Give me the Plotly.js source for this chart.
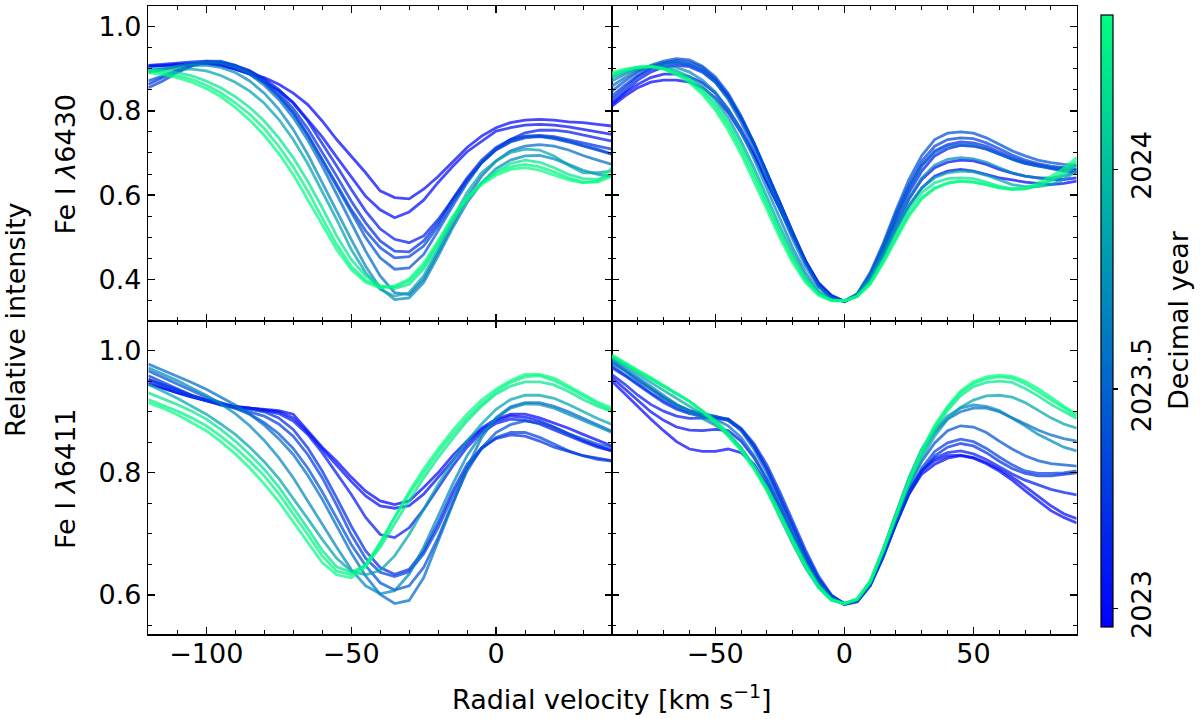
<!DOCTYPE html>
<html>
<head>
<meta charset="utf-8">
<script src="https://cdn.plot.ly/plotly-3.0.1.min.js"></script>
<style>
  html, body { margin: 0; padding: 0; background: #fff; }
  #chart { width: 1200px; height: 719px; }
</style>
</head>
<body>
<div id="chart"></div>
<script>
// velocity grids of the two columns [km/s]
var velLeft = [-120,-115,-110,-105,-100,-95,-90,-85,-80,-75,-70,-65,-60,-55,-50,-45,-40,-35,-30,-25,-20,-15,-10,-5,0,5,10,15,20,25,30,35,40];
var velRight = [-90,-85,-80,-75,-70,-65,-60,-55,-50,-45,-40,-35,-30,-25,-20,-15,-10,-5,0,5,10,15,20,25,30,35,40,45,50,55,60,65,70,75,80,85,90];

// observation epochs (decimal year), one per profile row below
var obsDate = [2022.98, 2023.02, 2023.10, 2023.20, 2023.30, 2023.40, 2023.55, 2023.70, 2023.86, 2024.22, 2024.29, 2024.35];

// colour bar limits and ticks
var cbMin = 2022.958, cbMax = 2024.352;
var cbTicks = [2023, 2023.5, 2024];
var cbTickText = ['2023', '2023.5', '2024'];

// Fe I 6430, left window
var fe6430Left = [
  [0.907,0.908,0.911,0.912,0.913,0.908,0.899,0.888,0.879,0.863,0.842,0.815,0.776,0.732,0.693,0.653,0.610,0.594,0.591,0.614,0.644,0.679,0.713,0.740,0.760,0.772,0.778,0.780,0.778,0.774,0.772,0.768,0.764],
  [0.905,0.907,0.909,0.911,0.912,0.908,0.899,0.887,0.868,0.848,0.820,0.780,0.738,0.690,0.643,0.597,0.565,0.546,0.560,0.588,0.630,0.668,0.703,0.728,0.752,0.760,0.766,0.768,0.766,0.762,0.756,0.750,0.744],
  [0.908,0.910,0.913,0.916,0.918,0.914,0.906,0.895,0.876,0.851,0.818,0.776,0.724,0.669,0.614,0.562,0.520,0.495,0.487,0.503,0.542,0.590,0.637,0.677,0.709,0.732,0.748,0.754,0.754,0.750,0.743,0.736,0.728],
  [0.863,0.879,0.895,0.908,0.916,0.916,0.908,0.895,0.873,0.843,0.805,0.758,0.702,0.645,0.586,0.534,0.491,0.467,0.465,0.491,0.534,0.590,0.641,0.683,0.713,0.732,0.740,0.742,0.739,0.732,0.724,0.716,0.709],
  [0.855,0.871,0.891,0.906,0.916,0.914,0.905,0.891,0.867,0.835,0.796,0.744,0.685,0.625,0.566,0.515,0.475,0.451,0.454,0.479,0.526,0.582,0.633,0.677,0.707,0.726,0.736,0.739,0.734,0.726,0.716,0.707,0.697],
  [0.871,0.883,0.897,0.908,0.918,0.918,0.908,0.892,0.868,0.835,0.794,0.742,0.681,0.618,0.558,0.499,0.451,0.424,0.427,0.459,0.515,0.574,0.629,0.677,0.709,0.728,0.739,0.740,0.736,0.728,0.718,0.709,0.697],
  [0.891,0.899,0.906,0.913,0.916,0.913,0.903,0.887,0.861,0.827,0.784,0.731,0.669,0.602,0.534,0.467,0.408,0.368,0.364,0.400,0.463,0.530,0.594,0.645,0.681,0.705,0.716,0.720,0.716,0.707,0.694,0.683,0.673],
  [0.895,0.900,0.905,0.908,0.908,0.903,0.891,0.871,0.842,0.804,0.756,0.697,0.629,0.562,0.495,0.431,0.380,0.352,0.356,0.392,0.455,0.522,0.582,0.629,0.663,0.683,0.693,0.694,0.686,0.673,0.659,0.649,0.645],
  [0.899,0.900,0.900,0.899,0.895,0.884,0.868,0.847,0.818,0.780,0.732,0.675,0.610,0.542,0.471,0.416,0.376,0.360,0.368,0.408,0.471,0.542,0.606,0.653,0.681,0.701,0.709,0.707,0.693,0.671,0.653,0.653,0.657],
  [0.899,0.895,0.891,0.883,0.871,0.855,0.834,0.808,0.776,0.736,0.689,0.633,0.570,0.503,0.447,0.408,0.385,0.378,0.388,0.424,0.479,0.538,0.590,0.629,0.657,0.675,0.683,0.678,0.665,0.649,0.639,0.637,0.649],
  [0.895,0.891,0.884,0.875,0.861,0.843,0.819,0.792,0.758,0.716,0.667,0.610,0.546,0.483,0.431,0.398,0.382,0.382,0.396,0.431,0.487,0.546,0.594,0.629,0.653,0.667,0.673,0.667,0.655,0.641,0.631,0.631,0.645],
  [0.891,0.886,0.879,0.868,0.853,0.834,0.808,0.778,0.742,0.699,0.649,0.591,0.530,0.471,0.423,0.393,0.380,0.384,0.401,0.438,0.491,0.549,0.594,0.625,0.647,0.661,0.665,0.659,0.647,0.636,0.629,0.633,0.665]
];

// Fe I 6430, right window
var fe6430Right = [
  [0.811,0.835,0.855,0.868,0.873,0.873,0.868,0.855,0.831,0.796,0.748,0.693,0.629,0.566,0.503,0.443,0.392,0.362,0.348,0.360,0.400,0.455,0.518,0.574,0.617,0.645,0.657,0.661,0.657,0.649,0.641,0.636,0.631,0.628,0.625,0.628,0.633],
  [0.815,0.842,0.863,0.879,0.887,0.887,0.881,0.867,0.842,0.804,0.756,0.699,0.633,0.568,0.503,0.443,0.390,0.360,0.348,0.362,0.404,0.463,0.530,0.590,0.637,0.665,0.678,0.683,0.681,0.673,0.661,0.652,0.645,0.641,0.637,0.637,0.641],
  [0.819,0.847,0.873,0.892,0.904,0.908,0.905,0.892,0.868,0.831,0.780,0.720,0.653,0.582,0.511,0.443,0.388,0.359,0.348,0.364,0.408,0.471,0.542,0.606,0.657,0.693,0.710,0.718,0.716,0.709,0.697,0.685,0.675,0.669,0.663,0.657,0.653],
  [0.827,0.855,0.881,0.899,0.910,0.914,0.910,0.897,0.873,0.835,0.784,0.723,0.655,0.583,0.511,0.443,0.388,0.359,0.347,0.363,0.409,0.475,0.550,0.617,0.671,0.705,0.720,0.726,0.724,0.716,0.702,0.689,0.678,0.671,0.665,0.661,0.659],
  [0.835,0.861,0.884,0.903,0.914,0.920,0.916,0.903,0.876,0.837,0.784,0.723,0.653,0.582,0.509,0.441,0.385,0.357,0.347,0.364,0.412,0.479,0.557,0.625,0.681,0.716,0.732,0.736,0.734,0.724,0.710,0.695,0.683,0.675,0.669,0.665,0.661],
  [0.847,0.871,0.892,0.908,0.918,0.924,0.921,0.906,0.881,0.842,0.788,0.724,0.653,0.580,0.507,0.439,0.385,0.357,0.348,0.366,0.416,0.485,0.564,0.637,0.694,0.732,0.747,0.750,0.747,0.736,0.720,0.705,0.693,0.683,0.677,0.673,0.671],
  [0.859,0.879,0.895,0.906,0.914,0.916,0.910,0.895,0.868,0.827,0.773,0.710,0.639,0.566,0.495,0.431,0.382,0.355,0.348,0.364,0.409,0.475,0.550,0.617,0.669,0.701,0.716,0.720,0.718,0.710,0.697,0.685,0.675,0.669,0.665,0.665,0.669],
  [0.871,0.887,0.899,0.905,0.906,0.903,0.892,0.873,0.845,0.804,0.750,0.686,0.615,0.544,0.475,0.416,0.372,0.352,0.349,0.364,0.404,0.463,0.530,0.594,0.641,0.671,0.685,0.689,0.686,0.678,0.665,0.653,0.645,0.641,0.641,0.645,0.657],
  [0.879,0.892,0.900,0.905,0.903,0.895,0.881,0.859,0.827,0.784,0.728,0.665,0.596,0.526,0.462,0.406,0.368,0.351,0.349,0.362,0.398,0.455,0.518,0.576,0.617,0.641,0.653,0.657,0.655,0.647,0.636,0.625,0.620,0.620,0.625,0.637,0.657],
  [0.883,0.895,0.903,0.905,0.900,0.891,0.875,0.851,0.818,0.773,0.718,0.655,0.586,0.517,0.454,0.401,0.367,0.351,0.349,0.360,0.393,0.447,0.507,0.564,0.606,0.629,0.639,0.641,0.639,0.631,0.621,0.615,0.615,0.621,0.633,0.649,0.673],
  [0.887,0.897,0.904,0.906,0.900,0.889,0.871,0.845,0.810,0.764,0.707,0.644,0.576,0.507,0.446,0.396,0.364,0.350,0.349,0.359,0.390,0.441,0.499,0.554,0.594,0.617,0.629,0.633,0.631,0.625,0.617,0.613,0.615,0.623,0.637,0.655,0.681],
  [0.891,0.899,0.904,0.905,0.899,0.886,0.867,0.839,0.802,0.754,0.697,0.633,0.566,0.499,0.439,0.392,0.362,0.349,0.349,0.359,0.388,0.438,0.495,0.550,0.591,0.615,0.628,0.633,0.631,0.625,0.617,0.615,0.617,0.628,0.644,0.663,0.689]
];

// Fe I 6411, left window
var fe6411Left = [
  [0.948,0.939,0.931,0.924,0.918,0.912,0.908,0.906,0.904,0.902,0.896,0.869,0.842,0.819,0.793,0.770,0.754,0.748,0.754,0.776,0.800,0.828,0.852,0.873,0.888,0.896,0.896,0.890,0.882,0.873,0.863,0.853,0.844],
  [0.945,0.938,0.931,0.924,0.918,0.912,0.908,0.906,0.903,0.900,0.890,0.866,0.839,0.813,0.786,0.762,0.746,0.742,0.746,0.765,0.792,0.820,0.848,0.870,0.885,0.893,0.891,0.885,0.875,0.864,0.853,0.844,0.836],
  [0.953,0.944,0.935,0.927,0.920,0.914,0.909,0.906,0.902,0.897,0.885,0.863,0.833,0.800,0.765,0.727,0.699,0.694,0.710,0.740,0.776,0.811,0.842,0.866,0.881,0.888,0.886,0.880,0.870,0.860,0.851,0.842,0.836],
  [0.959,0.948,0.937,0.927,0.919,0.912,0.908,0.904,0.900,0.890,0.871,0.841,0.803,0.759,0.713,0.672,0.645,0.634,0.642,0.672,0.718,0.770,0.814,0.841,0.856,0.862,0.860,0.852,0.842,0.835,0.828,0.824,0.820],
  [0.953,0.944,0.934,0.925,0.918,0.911,0.906,0.900,0.893,0.880,0.860,0.830,0.792,0.747,0.699,0.660,0.637,0.630,0.638,0.667,0.710,0.762,0.808,0.839,0.858,0.866,0.866,0.858,0.847,0.836,0.828,0.822,0.819],
  [0.967,0.956,0.945,0.934,0.924,0.915,0.906,0.896,0.882,0.864,0.840,0.808,0.769,0.725,0.683,0.648,0.620,0.608,0.615,0.645,0.694,0.751,0.803,0.841,0.866,0.879,0.885,0.882,0.874,0.864,0.855,0.847,0.841],
  [0.978,0.968,0.959,0.948,0.937,0.924,0.911,0.896,0.878,0.856,0.830,0.796,0.757,0.713,0.669,0.631,0.601,0.586,0.591,0.628,0.688,0.751,0.808,0.858,0.890,0.908,0.915,0.915,0.909,0.900,0.889,0.878,0.868],
  [0.972,0.962,0.951,0.939,0.927,0.913,0.897,0.877,0.853,0.825,0.792,0.754,0.715,0.678,0.642,0.615,0.602,0.607,0.634,0.678,0.729,0.781,0.828,0.863,0.889,0.906,0.913,0.912,0.906,0.896,0.885,0.875,0.866],
  [0.945,0.934,0.922,0.909,0.896,0.880,0.863,0.842,0.818,0.791,0.759,0.725,0.691,0.660,0.639,0.633,0.640,0.664,0.699,0.740,0.781,0.819,0.852,0.880,0.904,0.920,0.927,0.927,0.922,0.912,0.900,0.889,0.879],
  [0.931,0.922,0.912,0.901,0.888,0.871,0.852,0.830,0.806,0.777,0.744,0.709,0.673,0.646,0.637,0.648,0.678,0.717,0.755,0.791,0.825,0.856,0.885,0.909,0.929,0.942,0.949,0.949,0.944,0.933,0.920,0.909,0.900],
  [0.920,0.911,0.901,0.890,0.877,0.860,0.841,0.819,0.795,0.766,0.733,0.699,0.664,0.639,0.633,0.650,0.686,0.727,0.765,0.800,0.833,0.863,0.890,0.913,0.933,0.948,0.957,0.959,0.951,0.939,0.926,0.913,0.902],
  [0.915,0.906,0.895,0.882,0.869,0.851,0.831,0.808,0.782,0.753,0.720,0.686,0.653,0.633,0.628,0.646,0.684,0.727,0.769,0.806,0.839,0.869,0.896,0.919,0.937,0.951,0.961,0.961,0.955,0.942,0.929,0.916,0.906]
];

// Fe I 6411, right window
var fe6411Right = [
  [0.950,0.929,0.908,0.888,0.869,0.851,0.839,0.835,0.835,0.839,0.833,0.814,0.781,0.738,0.694,0.653,0.620,0.597,0.586,0.591,0.618,0.664,0.716,0.765,0.798,0.814,0.824,0.828,0.824,0.815,0.803,0.788,0.771,0.754,0.738,0.727,0.718],
  [0.956,0.937,0.918,0.900,0.886,0.875,0.870,0.869,0.871,0.869,0.852,0.825,0.789,0.746,0.699,0.656,0.622,0.598,0.586,0.591,0.619,0.667,0.721,0.770,0.804,0.820,0.828,0.829,0.825,0.817,0.806,0.793,0.778,0.762,0.746,0.733,0.725],
  [0.961,0.945,0.927,0.912,0.901,0.893,0.889,0.889,0.890,0.886,0.871,0.844,0.806,0.759,0.710,0.664,0.626,0.599,0.586,0.590,0.616,0.664,0.718,0.768,0.803,0.824,0.833,0.836,0.831,0.822,0.810,0.798,0.788,0.780,0.773,0.768,0.764],
  [0.972,0.959,0.944,0.929,0.915,0.904,0.897,0.893,0.891,0.888,0.873,0.848,0.813,0.769,0.721,0.673,0.631,0.600,0.585,0.589,0.615,0.661,0.716,0.765,0.803,0.828,0.842,0.848,0.844,0.833,0.819,0.807,0.799,0.795,0.795,0.798,0.800],
  [0.975,0.961,0.946,0.931,0.918,0.907,0.899,0.894,0.892,0.888,0.871,0.844,0.807,0.762,0.715,0.668,0.627,0.598,0.584,0.589,0.615,0.662,0.718,0.769,0.808,0.835,0.849,0.855,0.851,0.840,0.826,0.813,0.803,0.799,0.799,0.800,0.803],
  [0.980,0.967,0.951,0.937,0.923,0.911,0.902,0.897,0.893,0.886,0.869,0.839,0.800,0.754,0.706,0.660,0.623,0.597,0.585,0.590,0.617,0.667,0.724,0.777,0.819,0.849,0.869,0.877,0.875,0.866,0.852,0.839,0.828,0.820,0.815,0.813,0.811],
  [0.983,0.968,0.953,0.938,0.924,0.912,0.902,0.895,0.888,0.877,0.858,0.828,0.789,0.743,0.697,0.653,0.618,0.595,0.585,0.591,0.620,0.672,0.732,0.788,0.833,0.866,0.888,0.900,0.906,0.906,0.900,0.890,0.879,0.870,0.862,0.856,0.852],
  [0.986,0.971,0.956,0.941,0.926,0.912,0.900,0.889,0.878,0.863,0.841,0.811,0.773,0.728,0.684,0.644,0.612,0.592,0.585,0.592,0.622,0.675,0.735,0.792,0.839,0.871,0.893,0.906,0.911,0.909,0.902,0.890,0.877,0.863,0.852,0.842,0.836],
  [0.989,0.975,0.961,0.948,0.935,0.922,0.909,0.896,0.881,0.862,0.839,0.810,0.776,0.736,0.694,0.653,0.616,0.593,0.586,0.593,0.620,0.671,0.727,0.780,0.825,0.860,0.888,0.907,0.919,0.926,0.927,0.924,0.915,0.902,0.890,0.880,0.873],
  [0.990,0.978,0.966,0.953,0.941,0.929,0.917,0.902,0.886,0.866,0.841,0.811,0.776,0.735,0.691,0.650,0.615,0.593,0.586,0.593,0.620,0.672,0.729,0.784,0.830,0.871,0.902,0.926,0.941,0.948,0.950,0.948,0.938,0.926,0.912,0.900,0.889],
  [0.991,0.979,0.967,0.955,0.942,0.930,0.917,0.901,0.884,0.863,0.839,0.808,0.773,0.732,0.688,0.647,0.613,0.592,0.586,0.593,0.622,0.673,0.731,0.787,0.835,0.875,0.907,0.931,0.946,0.954,0.957,0.955,0.946,0.933,0.919,0.906,0.893],
  [0.993,0.980,0.968,0.956,0.943,0.931,0.917,0.900,0.882,0.860,0.836,0.806,0.770,0.729,0.686,0.646,0.612,0.591,0.586,0.594,0.623,0.675,0.733,0.789,0.837,0.878,0.909,0.934,0.949,0.957,0.960,0.958,0.950,0.938,0.924,0.909,0.896]
];

// matplotlib "winter" colormap
var winterScale = [[0, 'rgb(0,0,255)'], [1, 'rgb(0,255,128)']];

function winterColor(d) {
    var t = (d - cbMin) / (cbMax - cbMin);
    return 'rgb(0,' + Math.round(255 * t) + ',' + Math.round(255 * (1 - 0.5 * t)) + ')';
}

var panels = [
    { prof: fe6430Left,  vel: velLeft,  xa: 'x',  ya: 'y'  },
    { prof: fe6430Right, vel: velRight, xa: 'x2', ya: 'y2' },
    { prof: fe6411Left,  vel: velLeft,  xa: 'x3', ya: 'y3' },
    { prof: fe6411Right, vel: velRight, xa: 'x4', ya: 'y4' }
];

var data = [];
panels.forEach(function (p) {
    p.prof.forEach(function (row, i) {
        data.push({
            x: p.vel, y: row,
            xaxis: p.xa, yaxis: p.ya,
            mode: 'lines',
            line: { color: winterColor(obsDate[i]), width: 2.8 },
            opacity: 0.72,
            hoverinfo: 'skip',
            showlegend: false
        });
    });
});

// invisible trace that only carries the colour bar
data.push({
    x: [velLeft[0]], y: [0.1],
    xaxis: 'x', yaxis: 'y',
    mode: 'markers',
    marker: {
        size: 1, opacity: 0,
        color: [cbMin], cmin: cbMin, cmax: cbMax,
        colorscale: winterScale, showscale: true,
        colorbar: {
            x: 1101 / 1200, xanchor: 'left',
            y: (719 - 321) / 719, yanchor: 'middle',
            len: 612 / 719, lenmode: 'fraction',
            thickness: 12, thicknessmode: 'pixels',
            xpad: 0, ypad: 0,
            outlinewidth: 1.2, outlinecolor: '#000',
            ticks: 'outside', ticklen: 5, tickwidth: 1.2, tickcolor: '#000',
            tickvals: cbTicks, ticktext: cbTickText,
            tickangle: -90,
            tickfont: { size: 27, color: '#000' }
        }
    },
    hoverinfo: 'skip',
    showlegend: false
});

var FONT = 'DejaVu Sans, sans-serif';
var leftDom = [148.3 / 1200, 612 / 1200];
var rightDom = [612 / 1200, 1076.7 / 1200];
var topDom = [(719 - 321) / 719, (719 - 6) / 719];
var botDom = [(719 - 634.3) / 719, (719 - 321) / 719];

function xAxis(dom, range, anchor, labels) {
    return {
        domain: dom, range: range, anchor: anchor,
        tick0: 0, dtick: 50, ticks: 'inside', ticklen: 7, tickwidth: 1.3, tickcolor: '#000',
        minor: { dtick: 10, ticks: 'inside', ticklen: 4, tickwidth: 1, tickcolor: '#000' },
        showticklabels: labels, ticklabelstandoff: -5,
        showline: true, linecolor: '#000', linewidth: 1.4, mirror: 'allticks',
        showgrid: false, zeroline: false,
        tickfont: { size: 27, color: '#000' }
    };
}

function yAxis(dom, range, anchor, labels) {
    return {
        domain: dom, range: range, anchor: anchor,
        tick0: 0, dtick: 0.2, tickformat: '.1f',
        ticks: 'inside', ticklen: 7, tickwidth: 1.3, tickcolor: '#000',
        minor: { dtick: 0.05, ticks: 'inside', ticklen: 4, tickwidth: 1, tickcolor: '#000' },
        showticklabels: labels,
        showline: true, linecolor: '#000', linewidth: 1.4, mirror: 'allticks',
        showgrid: false, zeroline: false,
        tickfont: { size: 27, color: '#000' }
    };
}

var ann = { xref: 'paper', yref: 'paper', showarrow: false, xanchor: 'center', yanchor: 'middle',
            font: { size: 27, color: '#000', family: FONT } };

var layout = {
    width: 1200, height: 719,
    margin: { l: 0, r: 0, t: 0, b: 0 },
    paper_bgcolor: '#fff', plot_bgcolor: '#fff',
    font: { family: FONT, size: 27, color: '#000' },
    showlegend: false,
    xaxis:  xAxis(leftDom,  [-120, 40], 'y',  false),
    yaxis:  yAxis(topDom,   [0.301, 1.049], 'x', true),
    xaxis2: xAxis(rightDom, [-90, 90], 'y2', false),
    yaxis2: yAxis(topDom,   [0.301, 1.049], 'x2', false),
    xaxis3: xAxis(leftDom,  [-120, 40], 'y3', true),
    yaxis3: yAxis(botDom,   [0.5356, 1.0486], 'x3', true),
    xaxis4: xAxis(rightDom, [-90, 90], 'y4', true),
    yaxis4: yAxis(botDom,   [0.5356, 1.0486], 'x4', false),
    annotations: [
        Object.assign({}, ann, { text: 'Relative intensity', x: 15 / 1200, y: (719 - 320) / 719, textangle: -90 }),
        Object.assign({}, ann, { text: 'Fe I <i>λ</i>6430', x: 65.5 / 1200, y: (719 - 164) / 719, textangle: -90 }),
        Object.assign({}, ann, { text: 'Fe I <i>λ</i>6411', x: 65.5 / 1200, y: (719 - 478.5) / 719, textangle: -90 }),
        Object.assign({}, ann, { text: 'Radial velocity [km s<sup>−1</sup>]', x: 612 / 1200, y: (719 - 697) / 719 }),
        Object.assign({}, ann, { text: 'Decimal year', x: 1178 / 1200, y: (719 - 320) / 719, textangle: -90 })
    ]
};

Plotly.newPlot('chart', data, layout, { staticPlot: true, displayModeBar: false });
</script>
</body>
</html>
